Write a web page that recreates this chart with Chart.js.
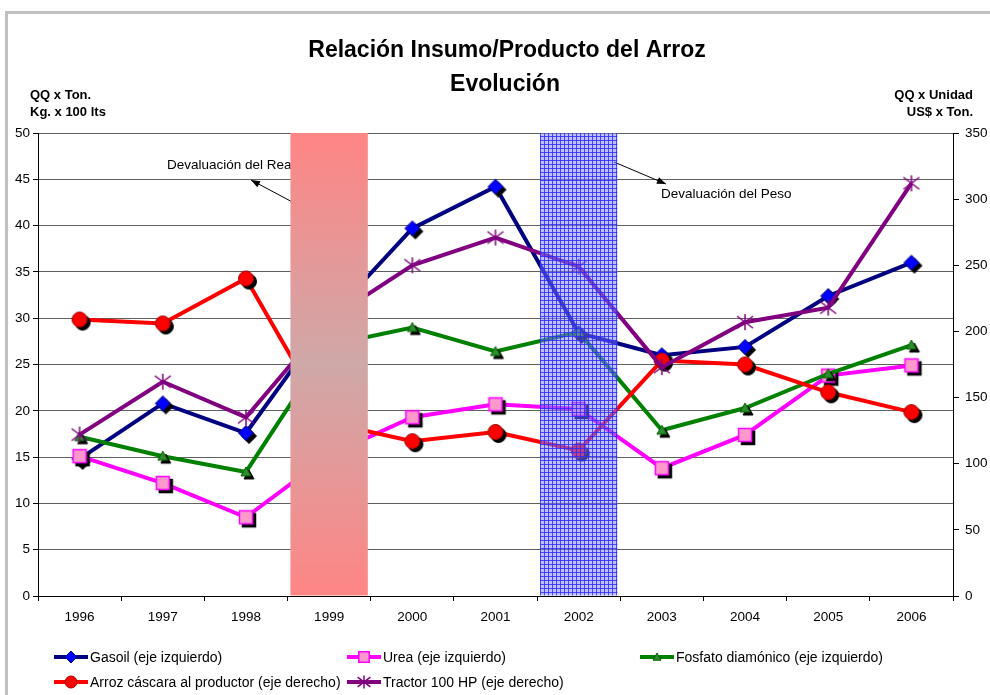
<!DOCTYPE html>
<html>
<head>
<meta charset="utf-8">
<script src="https://cdn.jsdelivr.net/npm/chart.js@4.4.0/dist/chart.umd.min.js"></script>
<style>
  html, body { margin: 0; padding: 0; background: #fff; }
</style>
</head>
<body>
<canvas id="arroz-chart" width="990" height="695"></canvas>
<script>
// data
var years = ['1996', '1997', '1998', '1999', '2000', '2001', '2002', '2003', '2004', '2005', '2006'];
var gasoil = [14.8, 20.8, 17.6, 30.0, 39.7, 44.2, 28.4, 26.0, 26.9, 32.4, 36.0];
var urea = [15.1, 12.2, 8.5, 15.2, 19.3, 20.7, 20.2, 13.8, 17.4, 23.8, 24.9];
var fosfato = [17.2, 15.1, 13.4, 27.1, 29.0, 26.4, 28.5, 17.9, 20.3, 24.0, 27.1];
var arroz = [209, 206, 240, 131, 117, 124, 110, 178, 175, 154, 139];
var tractor = [122, 162, 135, 209, 250, 271, 249, 173, 207, 218, 312];
var shadeReal = [null, null, null, 50, null, null, null, null, null, null, null];
var shadePeso = [null, null, null, null, null, null, 50, null, null, null, null];

var names = [
  'Gasoil (eje izquierdo)',
  'Urea (eje izquierdo)',
  'Fosfato diamónico (eje izquierdo)',
  'Arroz cáscara al productor (eje derecho)',
  'Tractor 100 HP (eje derecho)'
];
var titleLines = ['Relación Insumo/Producto del Arroz', 'Evolución'];
var leftTitle = ['QQ x Ton.', 'Kg. x 100 lts'];
var rightTitle = ['QQ x Unidad', 'US$ x Ton.'];
var notes = ['Devaluación del Real', 'Devaluación del Peso'];

var FONT = "'Liberation Sans', Arial, sans-serif";

function drawShape(g, kind, x, y, k, fill, stroke) {
  g.fillStyle = fill;
  g.strokeStyle = stroke;
  g.lineWidth = 1;
  g.beginPath();
  if (kind == 'diamond') {
    var r = 7.5 * k;
    g.moveTo(x, y - r); g.lineTo(x + r, y); g.lineTo(x, y + r); g.lineTo(x - r, y); g.closePath();
    g.fill(); g.stroke();
  } else if (kind == 'square') {
    var h = 6.5 * k;
    g.rect(x - h, y - h, 2 * h, 2 * h);
    g.fill(); g.lineWidth = 1.5; g.stroke();
  } else if (kind == 'triangle') {
    var t = 5 * k;
    g.moveTo(x, y - t); g.lineTo(x + t, y + t * 0.8); g.lineTo(x - t, y + t * 0.8); g.closePath();
    g.fill(); g.stroke();
  } else if (kind == 'circle') {
    g.arc(x, y, 7.5 * k, 0, Math.PI * 2);
    g.fill(); g.stroke();
  } else if (kind == 'star') {
    var s = 8 * k;
    g.lineWidth = 1.5;
    g.moveTo(x - s, y - s * 0.75); g.lineTo(x + s, y + s * 0.75);
    g.moveTo(x - s, y + s * 0.75); g.lineTo(x + s, y - s * 0.75);
    g.moveTo(x, y - s); g.lineTo(x, y + s);
    g.stroke();
  }
}

function marker(kind, fill, stroke, shadow, k) {
  var c = document.createElement('canvas');
  c.width = 28; c.height = 28;
  var g = c.getContext('2d');
  if (shadow) drawShape(g, kind, 17, 17, k, '#000', '#000');
  drawShape(g, kind, 14, 14, k, fill, stroke);
  return c;
}

var styles = [
  { color: '#000080', kind: 'diamond', fill: '#0000ff', stroke: '#000080', shadow: true },
  { color: '#ff00ff', kind: 'square', fill: '#ff99cc', stroke: '#ff00ff', shadow: true },
  { color: '#008000', kind: 'triangle', fill: '#2e8b2e', stroke: '#006000', shadow: true },
  { color: '#ff0000', kind: 'circle', fill: '#ff0000', stroke: '#990000', shadow: true },
  { color: '#800080', kind: 'star', fill: '#800080', stroke: '#800080', shadow: false }
];
styles.forEach(function (s) {
  s.point = marker(s.kind, s.fill, s.stroke, s.shadow, 1);
  s.legendPoint = marker(s.kind, s.fill, s.stroke, false, 0.8);
});

// hatched blue fill for the 2002 band
var pat = document.createElement('canvas');
pat.width = 4; pat.height = 4;
var pg = pat.getContext('2d');
pg.fillStyle = 'rgba(130,130,255,0.5)';
pg.fillRect(0, 0, 4, 4);
pg.fillStyle = 'rgba(40,40,255,0.8)';
pg.fillRect(0, 0, 4, 1);
pg.fillRect(0, 0, 1, 4);
var ctx = document.getElementById('arroz-chart').getContext('2d');
var bluePattern = ctx.createPattern(pat, 'repeat');

function pinkFill(c) {
  var area = c.chart.chartArea;
  if (!area) return '#ff8080';
  var gr = c.chart.ctx.createLinearGradient(0, area.top, 0, area.bottom);
  gr.addColorStop(0, '#ff8585');
  gr.addColorStop(0.5, '#cfa8a8');
  gr.addColorStop(1, '#ff8585');
  return gr;
}

function lineSet(i, data, axis, order) {
  var s = styles[i];
  return {
    type: 'line', label: names[i], data: data, yAxisID: axis, order: order,
    borderColor: s.color, backgroundColor: s.color, borderWidth: 4, tension: 0,
    pointStyle: s.point, pointRadius: 8, fill: false
  };
}

function arrow(c, x1, y1, x2, y2) {
  c.strokeStyle = '#000'; c.fillStyle = '#000'; c.lineWidth = 1;
  c.beginPath(); c.moveTo(x1, y1); c.lineTo(x2, y2); c.stroke();
  var a = Math.atan2(y2 - y1, x2 - x1);
  c.beginPath();
  c.moveTo(x2, y2);
  c.lineTo(x2 - 9 * Math.cos(a) + 3.5 * Math.sin(a), y2 - 9 * Math.sin(a) - 3.5 * Math.cos(a));
  c.lineTo(x2 - 9 * Math.cos(a) - 3.5 * Math.sin(a), y2 - 9 * Math.sin(a) + 3.5 * Math.cos(a));
  c.closePath(); c.fill();
}

var decor = {
  id: 'decor',
  beforeDraw: function (chart) {
    var c = chart.ctx;
    c.save();
    c.fillStyle = '#fff';
    c.fillRect(0, 0, chart.width, chart.height);
    c.fillStyle = '#c0c0c0';
    c.fillRect(5, 11, chart.width - 5, 3);
    c.fillRect(5, 11, 3, chart.height - 11);
    c.restore();
  },
  beforeDatasetsDraw: function (chart) {
    var c = chart.ctx;
    c.save();
    c.fillStyle = '#000';
    c.font = '13.5px ' + FONT;
    c.textBaseline = 'middle';
    c.textAlign = 'left';
    c.fillText(notes[0], 167, 165);
    c.fillText(notes[1], 661, 194);
    arrow(c, 298, 205, 251, 180);
    arrow(c, 614, 162, 666, 184);
    c.restore();
  },
  afterDraw: function (chart) {
    var c = chart.ctx;
    c.save();
    c.fillStyle = '#000';
    c.textBaseline = 'middle';
    c.textAlign = 'center';
    c.font = 'bold 23px ' + FONT;
    c.fillText(titleLines[0], 507, 51);
    c.fillText(titleLines[1], 505, 85);

    c.font = 'bold 13px ' + FONT;
    c.textAlign = 'left';
    c.fillText(leftTitle[0], 30, 95);
    c.fillText(leftTitle[1], 30, 112);
    c.textAlign = 'right';
    c.fillText(rightTitle[0], 973, 95);
    c.fillText(rightTitle[1], 973, 112);

    // legend in a three-column grid
    var spots = [[54, 657], [347, 657], [640, 657], [54, 682], [347, 682]];
    c.font = '14px ' + FONT;
    c.textAlign = 'left';
    spots.forEach(function (p, i) {
      var s = styles[i];
      c.strokeStyle = s.color;
      c.lineWidth = 4;
      c.beginPath(); c.moveTo(p[0], p[1]); c.lineTo(p[0] + 34, p[1]); c.stroke();
      c.drawImage(s.legendPoint, p[0] + 17 - 14, p[1] - 14);
      c.fillStyle = '#000';
      c.fillText(names[i], p[0] + 36, p[1] + 1);
    });
    c.restore();
  }
};

new Chart(ctx, {
  data: {
    labels: years,
    datasets: [
      { type: 'bar', label: notes[0], data: shadeReal, yAxisID: 'y', order: 0, grouped: false,
        backgroundColor: pinkFill, borderWidth: 0, barPercentage: 0.93, categoryPercentage: 1 },
      { type: 'bar', label: notes[1], data: shadePeso, yAxisID: 'y', order: 0, grouped: false,
        backgroundColor: bluePattern, borderWidth: 0, barPercentage: 0.93, categoryPercentage: 1 },
      lineSet(0, gasoil, 'y', 5),
      lineSet(1, urea, 'y', 4),
      lineSet(2, fosfato, 'y', 3),
      lineSet(3, arroz, 'y1', 2),
      lineSet(4, tractor, 'y1', 1)
    ]
  },
  options: {
    responsive: false,
    animation: false,
    devicePixelRatio: 1,
    layout: { padding: { top: 133, left: 0, right: 0, bottom: 69 } },
    plugins: { legend: { display: false }, title: { display: false }, tooltip: { enabled: false } },
    scales: {
      x: {
        offset: true,
        grid: { offset: true, drawOnChartArea: false, tickLength: 5, tickColor: '#000' },
        border: { color: '#000', width: 1 },
        ticks: { color: '#000', font: { family: FONT, size: 13.5 }, padding: 8, maxRotation: 0 },
        afterFit: function (s) { s.height = 30; }
      },
      y: {
        position: 'left', min: 0, max: 50,
        grid: { color: '#606060', tickLength: 5, tickColor: '#000' },
        border: { color: '#000', width: 1 },
        ticks: { stepSize: 5, color: '#000', font: { family: FONT, size: 13.5 }, padding: 3 },
        afterFit: function (s) { s.width = 38; }
      },
      y1: {
        position: 'right', min: 0, max: 350,
        grid: { drawOnChartArea: false, tickLength: 6, tickColor: '#000' },
        border: { color: '#000', width: 1 },
        ticks: { stepSize: 50, color: '#000', font: { family: FONT, size: 13.5 }, padding: 6 },
        afterFit: function (s) { s.width = 37; }
      }
    }
  },
  plugins: [decor]
});
</script>
</body>
</html>
